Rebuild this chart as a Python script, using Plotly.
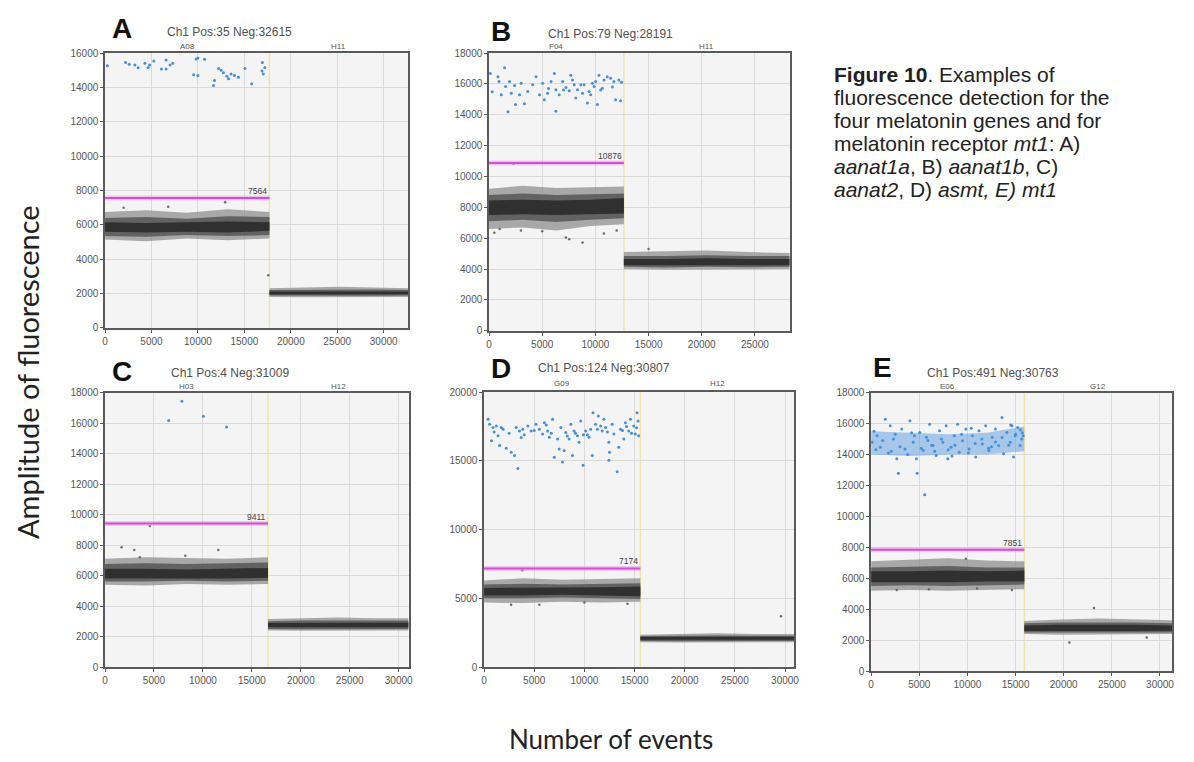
import plotly.graph_objects as go

W, H = 1194, 762

# ---------------- data ----------------
# Panel A
A_title = "Ch1 Pos:35 Neg:32615"
A_wells = ["A08", "H11"]
A_total = 32650
A_split = 17700
A_threshold = 7564
A_ymax = 16000
A_ydtick = 2000
A_pos_x = [250, 2210, 3210, 3570, 4290, 4640, 5250, 6070, 6570, 6570, 7290, 9540, 10000, 10000,
           10720, 11680, 11790, 12220, 12750, 13110, 13570, 13930, 14360, 15070, 15790, 16940,
           17040, 17210, 7000, 12500, 16900, 4800, 9800, 13300, 2600]
A_pos_y = [15260, 15450, 15300, 15140, 15410, 15160, 15540, 15070, 15600, 15070, 15410, 14740,
           14690, 15710, 15640, 14110, 14400, 15100, 14860, 14650, 14780, 14690, 14590, 15100,
           14210, 15450, 14780, 15160, 15300, 15000, 14950, 15300, 15650, 14500, 15350]
A_out_x = [12930, 17580, 2000, 6800]
A_out_y = [7310, 3070, 7000, 7050]
A_neg1_x = [0, 4400, 8800, 13200, 17700]
A_neg1_outer_hi = [6750, 6850, 6700, 6900, 6750]
A_neg1_outer_lo = [5150, 5050, 5200, 5100, 5200]
A_neg1_mid_hi = [6400, 6450, 6350, 6500, 6450]
A_neg1_mid_lo = [5350, 5300, 5400, 5350, 5400]
A_neg1_core_hi = [6150, 6100, 6150, 6200, 6150]
A_neg1_core_lo = [5600, 5550, 5600, 5550, 5650]
A_neg2_x = [17700, 21400, 25200, 28900, 32650]
A_neg2_outer_hi = [2300, 2350, 2400, 2350, 2300]
A_neg2_outer_lo = [1800, 1780, 1800, 1780, 1800]
A_neg2_mid_hi = [2200, 2220, 2250, 2230, 2200]
A_neg2_mid_lo = [1880, 1870, 1880, 1870, 1890]
A_neg2_core_hi = [2120, 2130, 2140, 2130, 2120]
A_neg2_core_lo = [1950, 1950, 1960, 1950, 1960]

# Panel B
B_title = "Ch1 Pos:79 Neg:28191"
B_wells = ["F04", "H11"]
B_total = 28270
B_split = 12680
B_threshold = 10876
B_ymax = 18000
B_ydtick = 2000
B_pos_x = [125, 840, 935, 1460, 1560, 1930, 2090, 1780, 2490, 3020, 2870, 3330, 4420, 4740, 5050,
           5200, 5510, 5830, 6140, 6290, 6290, 6600, 6920, 7230, 7540, 7690, 8010, 8160, 8320,
           8630, 8790, 8940, 9250, 9410, 9560, 9880, 10030, 10190, 10340, 10650, 10810, 11120,
           11430, 11740, 11900, 12210, 12370, 12460, 1150, 3640, 4110, 7850, 9720, 2400, 5600,
           10500, 11600, 300, 7000]
B_pos_y = [16680, 16470, 16150, 17040, 15830, 16150, 15400, 14190, 14660, 16040, 15300, 14720,
           16470, 15300, 16040, 14980, 15400, 16150, 16680, 15620, 14230, 15300, 16150, 15770,
           15550, 16570, 15940, 15080, 15620, 15940, 15400, 15940, 14770, 15510, 15300, 15830,
           16150, 14660, 16570, 15720, 16260, 16470, 16360, 16150, 14980, 16260, 14910, 16110,
           15300, 15510, 15940, 16260, 16040, 15900, 15700, 15600, 15800, 15500, 15600]
B_out_x = [8790, 7230, 7540, 500, 1000, 12000, 5000, 3000, 2300, 10800, 15000]
B_out_y = [5720, 6040, 5930, 6360, 6600, 6500, 6450, 6500, 10820, 6300, 5300]
B_neg1_x = [0, 3170, 6340, 9510, 12680]
B_neg1_outer_hi = [9200, 9400, 9250, 9300, 9350]
B_neg1_outer_lo = [6600, 6700, 6500, 6800, 6900]
B_neg1_mid_hi = [8800, 8900, 8800, 8850, 8900]
B_neg1_mid_lo = [7100, 7200, 7050, 7200, 7300]
B_neg1_core_hi = [8450, 8500, 8450, 8500, 8600]
B_neg1_core_lo = [7500, 7550, 7500, 7550, 7600]
B_neg2_x = [12680, 16580, 20480, 24380, 28270]
B_neg2_outer_hi = [5100, 5150, 5200, 5100, 5050]
B_neg2_outer_lo = [4000, 3950, 4000, 3980, 4000]
B_neg2_mid_hi = [4850, 4850, 4900, 4850, 4850]
B_neg2_mid_lo = [4150, 4100, 4150, 4120, 4150]
B_neg2_core_hi = [4650, 4650, 4700, 4650, 4650]
B_neg2_core_lo = [4250, 4250, 4250, 4250, 4250]

# Panel C
C_title = "Ch1 Pos:4 Neg:31009"
C_wells = ["H03", "H12"]
C_total = 31013
C_split = 16650
C_threshold = 9411
C_ymax = 18000
C_ydtick = 2000
C_pos_x = [7850, 6500, 10050, 12420]
C_pos_y = [17420, 16170, 16450, 15740]
C_out_x = [1690, 2980, 3550, 4570, 11570, 8200]
C_out_y = [7850, 7680, 7200, 9250, 7680, 7300]
C_neg1_x = [0, 4160, 8320, 12480, 16650]
C_neg1_outer_hi = [7100, 7200, 7150, 7100, 7200]
C_neg1_outer_lo = [5400, 5350, 5450, 5400, 5450]
C_neg1_mid_hi = [6750, 6800, 6750, 6800, 6850]
C_neg1_mid_lo = [5600, 5600, 5650, 5600, 5650]
C_neg1_core_hi = [6450, 6450, 6400, 6450, 6500]
C_neg1_core_lo = [5800, 5800, 5800, 5800, 5850]
C_neg2_x = [16650, 20240, 23830, 27420, 31013]
C_neg2_outer_hi = [3150, 3200, 3250, 3200, 3200]
C_neg2_outer_lo = [2400, 2380, 2400, 2380, 2400]
C_neg2_mid_hi = [3000, 3050, 3050, 3050, 3050]
C_neg2_mid_lo = [2500, 2480, 2500, 2480, 2500]
C_neg2_core_hi = [2880, 2900, 2900, 2900, 2900]
C_neg2_core_lo = [2600, 2600, 2600, 2600, 2600]

# Panel D
D_title = "Ch1 Pos:124 Neg:30807"
D_wells = ["G09", "H12"]
D_total = 30931
D_split = 15580
D_threshold = 7174
D_ymax = 20000
D_ydtick = 5000
D_pos_x = [400, 560, 890, 1220, 1390, 1720, 730, 1550, 2210, 2710, 3040, 3370, 3200, 3530, 3860,
           4360, 4690, 5180, 5510, 5840, 6010, 6340, 6500, 6830, 7000, 7330, 7490, 7660, 7820,
           7990, 8150, 8480, 8650, 8810, 8980, 9310, 9470, 9640, 9870, 10130, 10460, 10630,
           10790, 10860, 11120, 11390, 11620, 11780, 11950, 12110, 12440, 12510, 12440, 12770,
           12940, 13270, 13430, 13600, 13930, 14090, 14420, 14590, 14920, 15080, 15250, 15350,
           15410, 1000, 2500, 4000, 5000, 6700, 8300, 9100, 10300, 11300, 12300, 13800, 14700,
           15200, 1900, 3700, 6200, 9900, 14200]
D_pos_y = [18020, 17660, 17420, 17540, 16830, 17420, 16470, 16110, 15920, 15630, 15390, 14440,
           17420, 17180, 17300, 17540, 17180, 17660, 17300, 16950, 17780, 17180, 16710, 18020,
           15270, 16590, 15870, 17420, 14920, 15750, 17060, 16590, 17660, 15390, 17180, 16830,
           16350, 17900, 14680, 17180, 16710, 17300, 15390, 18500, 17660, 18260, 17540, 17180,
           18020, 17420, 16350, 15630, 15040, 17660, 16950, 14200, 15990, 17300, 16590, 17780,
           17180, 18020, 17540, 16950, 18500, 17900, 16830, 17100, 17000, 16900, 17200, 17000,
           16800, 17000, 16900, 17300, 17100, 17200, 17000, 17400, 17300, 16700, 17600, 16900,
           17500]
D_out_x = [3800, 2700, 5510, 29600, 14300, 10000]
D_out_y = [7040, 4530, 4530, 3700, 4600, 4700]
D_neg1_x = [0, 3900, 7790, 11690, 15580]
D_neg1_outer_hi = [6300, 6450, 6350, 6400, 6450]
D_neg1_outer_lo = [4700, 4650, 4750, 4700, 4750]
D_neg1_mid_hi = [6000, 6050, 6000, 6050, 6100]
D_neg1_mid_lo = [5000, 5000, 5050, 5000, 4950]
D_neg1_core_hi = [5750, 5750, 5750, 5800, 5850]
D_neg1_core_lo = [5200, 5200, 5250, 5200, 5150]
D_neg2_x = [15580, 19420, 23260, 27090, 30931]
D_neg2_outer_hi = [2350, 2400, 2450, 2400, 2400]
D_neg2_outer_lo = [1800, 1780, 1800, 1780, 1800]
D_neg2_mid_hi = [2250, 2280, 2300, 2280, 2280]
D_neg2_mid_lo = [1900, 1880, 1900, 1880, 1900]
D_neg2_core_hi = [2180, 2200, 2200, 2200, 2200]
D_neg2_core_lo = [1980, 1980, 1990, 1980, 1990]

# Panel E
E_title = "Ch1 Pos:491 Neg:30763"
E_wells = ["E06", "G12"]
E_total = 31254
E_split = 15910
E_threshold = 7851
E_ymax = 18000
E_ydtick = 2000
E_pos_x = [100, 615, 960, 1470, 1980, 2320, 2660, 2830, 3180, 3520, 4030, 4370, 4710, 4780, 5050,
           5400, 5570, 5740, 6080, 6420, 6760, 7100, 7450, 7790, 7960, 8300, 8640, 8980, 9150,
           9490, 9840, 10180, 10520, 10860, 11200, 11540, 11890, 12230, 12570, 12910, 13250,
           13590, 13760, 14100, 14450, 14620, 14790, 14960, 15230, 15470, 15640, 500, 1200, 1800,
           2500, 3000, 3800, 4500, 5200, 5900, 6600, 7300, 8000, 8700, 9400, 10100, 10800, 11500,
           12200, 12900, 13600, 14300, 15000, 15500, 15800, 300, 2100, 4200, 6300, 8400, 10400,
           12500, 14500, 15700]
E_pos_y = [14790, 15210, 14470, 16270, 15850, 15000, 13730, 12780, 15640, 14360, 16170, 14790,
           13730, 12780, 15420, 14260, 11400, 15110, 15950, 14580, 13940, 15530, 14790, 15850,
           13730, 14470, 15210, 15950, 14150, 14890, 15640, 14360, 15210, 13830, 15530, 14680,
           15850, 14260, 15110, 15640, 14580, 16380, 14050, 15420, 14790, 15850, 13830, 15210,
           15740, 14580, 15000, 14300, 14900, 14100, 15300, 14500, 14000, 15200, 14400, 14900,
           14200, 15000, 14300, 14600, 15300, 14100, 14700, 15000, 14400, 14800, 15100, 14600,
           15300, 15600, 15200, 15500, 14200, 15400, 14600, 13900, 15700, 14500, 15900, 15400]
E_band_x = [0, 4000, 8000, 12000, 15900]
E_band_hi = [15500, 15400, 15300, 15400, 15800]
E_band_lo = [14000, 13900, 14000, 14000, 14200]
E_out_x = [9840, 2660, 14620, 23150, 20590, 28620, 6000, 11000]
E_out_y = [7270, 5250, 5250, 4090, 1860, 2180, 5300, 5350]
E_neg1_x = [0, 3980, 7960, 11940, 15910]
E_neg1_outer_hi = [7100, 7200, 7300, 7150, 7100]
E_neg1_outer_lo = [5200, 5250, 5200, 5250, 5300]
E_neg1_mid_hi = [6700, 6750, 6800, 6700, 6700]
E_neg1_mid_lo = [5500, 5550, 5500, 5550, 5600]
E_neg1_core_hi = [6450, 6450, 6500, 6450, 6500]
E_neg1_core_lo = [5750, 5750, 5750, 5800, 5800]
E_neg2_x = [15910, 19750, 23580, 27420, 31254]
E_neg2_outer_hi = [3250, 3350, 3400, 3350, 3300]
E_neg2_outer_lo = [2400, 2350, 2400, 2380, 2400]
E_neg2_mid_hi = [3100, 3150, 3150, 3150, 3100]
E_neg2_mid_lo = [2500, 2500, 2500, 2500, 2500]
E_neg2_core_hi = [2950, 3000, 3000, 3000, 2950]
E_neg2_core_lo = [2600, 2600, 2620, 2600, 2620]

caption_lines = [
    "<b>Figure 10</b>. Examples of",
    "fluorescence detection for the",
    "four melatonin genes and for",
    "melatonin receptor <i>mt1</i>: A)",
    "<i>aanat1a</i>, B) <i>aanat1b</i>, C)",
    "<i>aanat2</i>, D) <i>asmt, E) mt1</i>",
]
y_title = "Amplitude of fluorescence"
x_title = "Number of events"

# ---------------- layout geometry (page pixels) ----------------
OFF = 8                     # default page margin around the plot div
FW, FH = W - 2 * OFF, H - 2 * OFF


def fx(px):
    return (px - OFF) / FW


def fy(py):
    return 1 - (py - OFF) / FH


panels = [
    dict(letter="A", title=A_title, wells=A_wells, total=A_total, split=A_split, thr=A_threshold,
         ymax=A_ymax, dtick=A_ydtick, pos=(A_pos_x, A_pos_y), out=(A_out_x, A_out_y),
         neg=[(A_neg1_x, A_neg1_outer_lo, A_neg1_outer_hi, A_neg1_mid_lo, A_neg1_mid_hi, A_neg1_core_lo, A_neg1_core_hi),
              (A_neg2_x, A_neg2_outer_lo, A_neg2_outer_hi, A_neg2_mid_lo, A_neg2_mid_hi, A_neg2_core_lo, A_neg2_core_hi)],
         band=None,
         box=(102.7, 408, 47.7, 327), letter_xy=(120, 23), title_xy=(228, 26), well_y=41),
    dict(letter="B", title=B_title, wells=B_wells, total=B_total, split=B_split, thr=B_threshold,
         ymax=B_ymax, dtick=B_ydtick, pos=(B_pos_x, B_pos_y), out=(B_out_x, B_out_y),
         neg=[(B_neg1_x, B_neg1_outer_lo, B_neg1_outer_hi, B_neg1_mid_lo, B_neg1_mid_hi, B_neg1_core_lo, B_neg1_core_hi),
              (B_neg2_x, B_neg2_outer_lo, B_neg2_outer_hi, B_neg2_mid_lo, B_neg2_mid_hi, B_neg2_core_lo, B_neg2_core_hi)],
         band=None,
         box=(489.3, 792, 47.7, 330), letter_xy=(501, 26), title_xy=(612, 28), well_y=41),
    dict(letter="C", title=C_title, wells=C_wells, total=C_total, split=C_split, thr=C_threshold,
         ymax=C_ymax, dtick=C_ydtick, pos=(C_pos_x, C_pos_y), out=(C_out_x, C_out_y),
         neg=[(C_neg1_x, C_neg1_outer_lo, C_neg1_outer_hi, C_neg1_mid_lo, C_neg1_mid_hi, C_neg1_core_lo, C_neg1_core_hi),
              (C_neg2_x, C_neg2_outer_lo, C_neg2_outer_hi, C_neg2_mid_lo, C_neg2_mid_hi, C_neg2_core_lo, C_neg2_core_hi)],
         band=None,
         box=(102.7, 408.3, 392.7, 671.7), letter_xy=(120, 371), title_xy=(229, 373), well_y=387),
    dict(letter="D", title=D_title, wells=D_wells, total=D_total, split=D_split, thr=D_threshold,
         ymax=D_ymax, dtick=D_ydtick, pos=(D_pos_x, D_pos_y), out=(D_out_x, D_out_y),
         neg=[(D_neg1_x, D_neg1_outer_lo, D_neg1_outer_hi, D_neg1_mid_lo, D_neg1_mid_hi, D_neg1_core_lo, D_neg1_core_hi),
              (D_neg2_x, D_neg2_outer_lo, D_neg2_outer_hi, D_neg2_mid_lo, D_neg2_mid_hi, D_neg2_core_lo, D_neg2_core_hi)],
         band=None,
         box=(484.3, 796.7, 392.3, 671.7), letter_xy=(501, 368), title_xy=(605, 368), well_y=384),
    dict(letter="E", title=E_title, wells=E_wells, total=E_total, split=E_split, thr=E_threshold,
         ymax=E_ymax, dtick=E_ydtick, pos=(E_pos_x, E_pos_y), out=(E_out_x, E_out_y),
         neg=[(E_neg1_x, E_neg1_outer_lo, E_neg1_outer_hi, E_neg1_mid_lo, E_neg1_mid_hi, E_neg1_core_lo, E_neg1_core_hi),
              (E_neg2_x, E_neg2_outer_lo, E_neg2_outer_hi, E_neg2_mid_lo, E_neg2_mid_hi, E_neg2_core_lo, E_neg2_core_hi)],
         band=(E_band_x, E_band_lo, E_band_hi),
         box=(874, 1177, 392.7, 676), letter_xy=(885, 367), title_xy=(997, 373), well_y=387),
]

BLUE = "#4690da"
fig = go.Figure()
annotations = []
shapes = []


def poly(xs, lo, hi):
    return list(xs) + list(xs)[::-1], list(hi) + list(lo)[::-1]


for i, p in enumerate(panels, start=1):
    xa = "x" if i == 1 else f"x{i}"
    ya = "y" if i == 1 else f"y{i}"
    xk = "xaxis" if i == 1 else f"xaxis{i}"
    yk = "yaxis" if i == 1 else f"yaxis{i}"
    x0, x1, y0, y1 = p["box"]

    # negative droplet clouds: fringe / mid / core
    for (xs, olo, ohi, mlo, mhi, clo, chi) in p["neg"]:
        for lo, hi, col in [(olo, ohi, "rgba(135,135,135,0.7)"),
                            (mlo, mhi, "rgba(90,90,90,0.9)"),
                            (clo, chi, "rgba(48,48,48,1)")]:
            px_, py_ = poly(xs, lo, hi)
            fig.add_trace(go.Scatter(x=px_, y=py_, fill="toself", fillcolor=col, mode="lines",
                                     line=dict(width=0), hoverinfo="skip", showlegend=False,
                                     xaxis=xa, yaxis=ya))
    # outlier negatives
    fig.add_trace(go.Scatter(x=p["out"][0], y=p["out"][1], mode="markers",
                             marker=dict(size=2.5, color="#6a6a6a"), showlegend=False,
                             xaxis=xa, yaxis=ya))
    # dense positive band (panel E)
    if p["band"] is not None:
        bx, blo, bhi = p["band"]
        px_, py_ = poly(bx, blo, bhi)
        fig.add_trace(go.Scatter(x=px_, y=py_, fill="toself", fillcolor="rgba(70,145,220,0.45)",
                                 mode="lines", line=dict(width=0), hoverinfo="skip",
                                 showlegend=False, xaxis=xa, yaxis=ya))
    # positive droplets
    fig.add_trace(go.Scatter(x=p["pos"][0], y=p["pos"][1], mode="markers",
                             marker=dict(size=3, color=BLUE), showlegend=False,
                             xaxis=xa, yaxis=ya))
    # threshold line
    fig.add_trace(go.Scatter(x=[0, p["split"]], y=[p["thr"], p["thr"]], mode="lines",
                             line=dict(color="rgba(235,150,235,0.5)", width=5),
                             showlegend=False, hoverinfo="skip", xaxis=xa, yaxis=ya))
    fig.add_trace(go.Scatter(x=[0, p["split"]], y=[p["thr"], p["thr"]], mode="lines",
                             line=dict(color="#d24fd2", width=2),
                             showlegend=False, xaxis=xa, yaxis=ya))
    # well divider
    shapes.append(dict(type="line", xref=xa, yref=ya, x0=p["split"], x1=p["split"],
                       y0=0, y1=p["ymax"], line=dict(color="#efe6a6", width=1.5), layer="below"))

    common = dict(showgrid=True, gridcolor="#dadada", gridwidth=1, showline=True,
                  linecolor="#5a5a5a", linewidth=1.5, mirror=True, ticks="outside", ticklen=3,
                  tickcolor="#5a5a5a", tickformat="d",
                  tickfont=dict(size=10, color="#555", family="Arial"), zeroline=False,
                  fixedrange=True)
    fig.layout[xk] = dict(domain=[fx(x0), fx(x1)], range=[0, p["total"]], anchor=ya,
                          dtick=5000, tick0=0, **common)
    fig.layout[yk] = dict(domain=[fy(y1), fy(y0)], range=[0, p["ymax"]], anchor=xa,
                          dtick=p["dtick"], tick0=0, **common)

    # threshold label
    annotations.append(dict(x=p["split"], y=p["thr"], xref=xa, yref=ya, text=str(p["thr"]),
                            showarrow=False, xanchor="right", yanchor="bottom", yshift=0,
                            font=dict(size=8.5, color="#444", family="Arial")))
    # well labels
    for (cx, name) in [(p["split"] / 2, p["wells"][0]), ((p["split"] + p["total"]) / 2, p["wells"][1])]:
        annotations.append(dict(x=cx, y=fy(p["well_y"]), xref=xa, yref="paper", text=name,
                                showarrow=False, xanchor="center", yanchor="middle",
                                font=dict(size=8, color="#555", family="Arial")))
    # title
    annotations.append(dict(x=fx(p["title_xy"][0]), y=fy(p["title_xy"][1]), xref="paper",
                            yref="paper", text=p["title"], showarrow=False, xanchor="center",
                            yanchor="middle", font=dict(size=12, color="#505050", family="Arial")))
    # panel letter
    annotations.append(dict(x=fx(p["letter_xy"][0]), y=fy(p["letter_xy"][1]), xref="paper",
                            yref="paper", text="<b>%s</b>" % p["letter"], showarrow=False,
                            xanchor="center", yanchor="middle",
                            font=dict(size=28, color="#111", family="Arial")))

# caption
cap_y = [69, 92.5, 116, 139.5, 163, 186.5]
for txt, yy in zip(caption_lines, cap_y):
    annotations.append(dict(x=fx(835), y=fy(yy), xref="paper", yref="paper", text=txt,
                            showarrow=False, xanchor="left", yanchor="middle",
                            font=dict(size=21, color="#222", family="Liberation Sans, Arial")))

# shared axis titles
annotations.append(dict(x=fx(24), y=fy(372), xref="paper", yref="paper", text=y_title,
                        showarrow=False, textangle=-90, xanchor="center", yanchor="middle",
                        font=dict(size=29, color="#222", family="Lato, Open Sans")))
annotations.append(dict(x=fx(612), y=fy(745), xref="paper", yref="paper", text=x_title,
                        showarrow=False, xanchor="center", yanchor="middle",
                        font=dict(size=26, color="#222", family="Lato, Open Sans")))

fig.update_layout(width=FW, height=FH, autosize=False, margin=dict(l=0, r=0, t=0, b=0),
                  paper_bgcolor="white", plot_bgcolor="#f4f4f4", showlegend=False,
                  annotations=annotations, shapes=shapes)

fig.write_html("out.html")
